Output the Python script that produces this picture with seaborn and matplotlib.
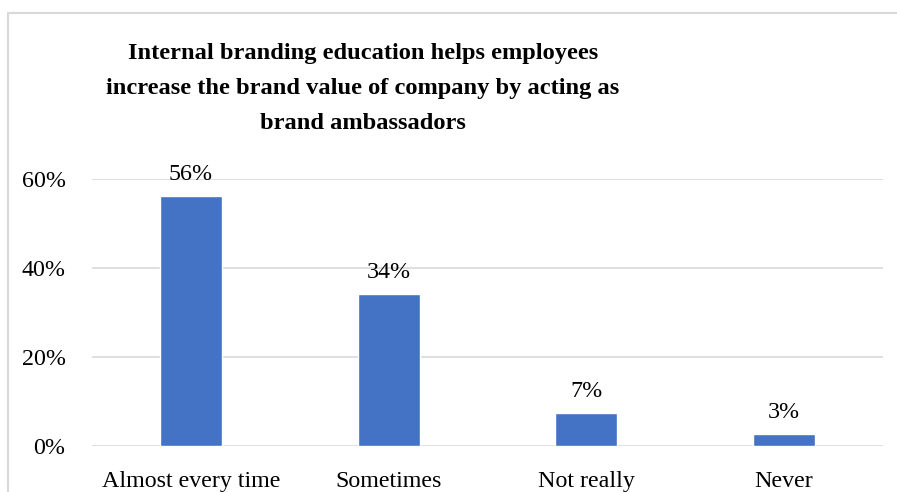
import matplotlib
matplotlib.use("Agg")
import matplotlib.pyplot as plt
import seaborn as sns
import pandas as pd
from matplotlib.patches import Rectangle
from matplotlib.ticker import FuncFormatter

categories = ["Almost every time", "Sometimes", "Not really", "Never"]
values = [0.56, 0.34, 0.073, 0.026]
value_labels = ["56%", "34%", "7%", "3%"]
y_ticks = [0.0, 0.2, 0.4, 0.6]
title = ("Internal branding education helps employees\n"
         "increase the brand value of company by acting as\n"
         "brand ambassadors")

sns.set_theme(style="white")
plt.rcParams["font.family"] = ["Liberation Serif", "DejaVu Serif"]

df = pd.DataFrame({"category": categories, "value": values})

W, H = 897, 492
fig = plt.figure(figsize=(W / 100, H / 100), dpi=100)
ax = fig.add_axes([92 / W, 1 - 445.7 / H, (883 - 92) / W, (445.7 - 178.7) / H])

sns.barplot(data=df, x="category", y="value", color="#4472C4", saturation=1,
            width=0.314, ax=ax, zorder=3)

ax.set_ylim(0, 0.6)
ax.set_xlim(-0.5, len(categories) - 0.5)
ax.set_yticks(y_ticks)
ax.yaxis.set_major_formatter(FuncFormatter(lambda v, p: f"{v:.0%}"))
ax.grid(axis="y", color="#D9D9D9", linewidth=1.2, zorder=0)
ax.grid(axis="x", visible=False)
for s in ax.spines.values():
    s.set_visible(False)
ax.set_xlabel("")
ax.set_ylabel("")
ax.tick_params(axis="y", length=0, pad=19, labelsize=17.3, labelcolor="black")
ax.tick_params(axis="x", length=0, pad=18, labelsize=17.3, labelcolor="black")

ax.bar_label(ax.containers[0], labels=value_labels, padding=8, fontsize=17.3,
             color="black")

fig.text(363 / W, 1 - 43 / H, title, ha="center", va="top", fontsize=17.6,
         fontweight="bold", linespacing=1.87, color="black")

border = Rectangle((8 / W, -0.05), 1.2, 1 - 13 / H + 0.05, transform=fig.transFigure,
                   fill=False, edgecolor="#D9D9D9", linewidth=1.5, clip_on=False)
fig.patches.append(border)

fig.savefig("out.png", dpi=100, facecolor="white")
